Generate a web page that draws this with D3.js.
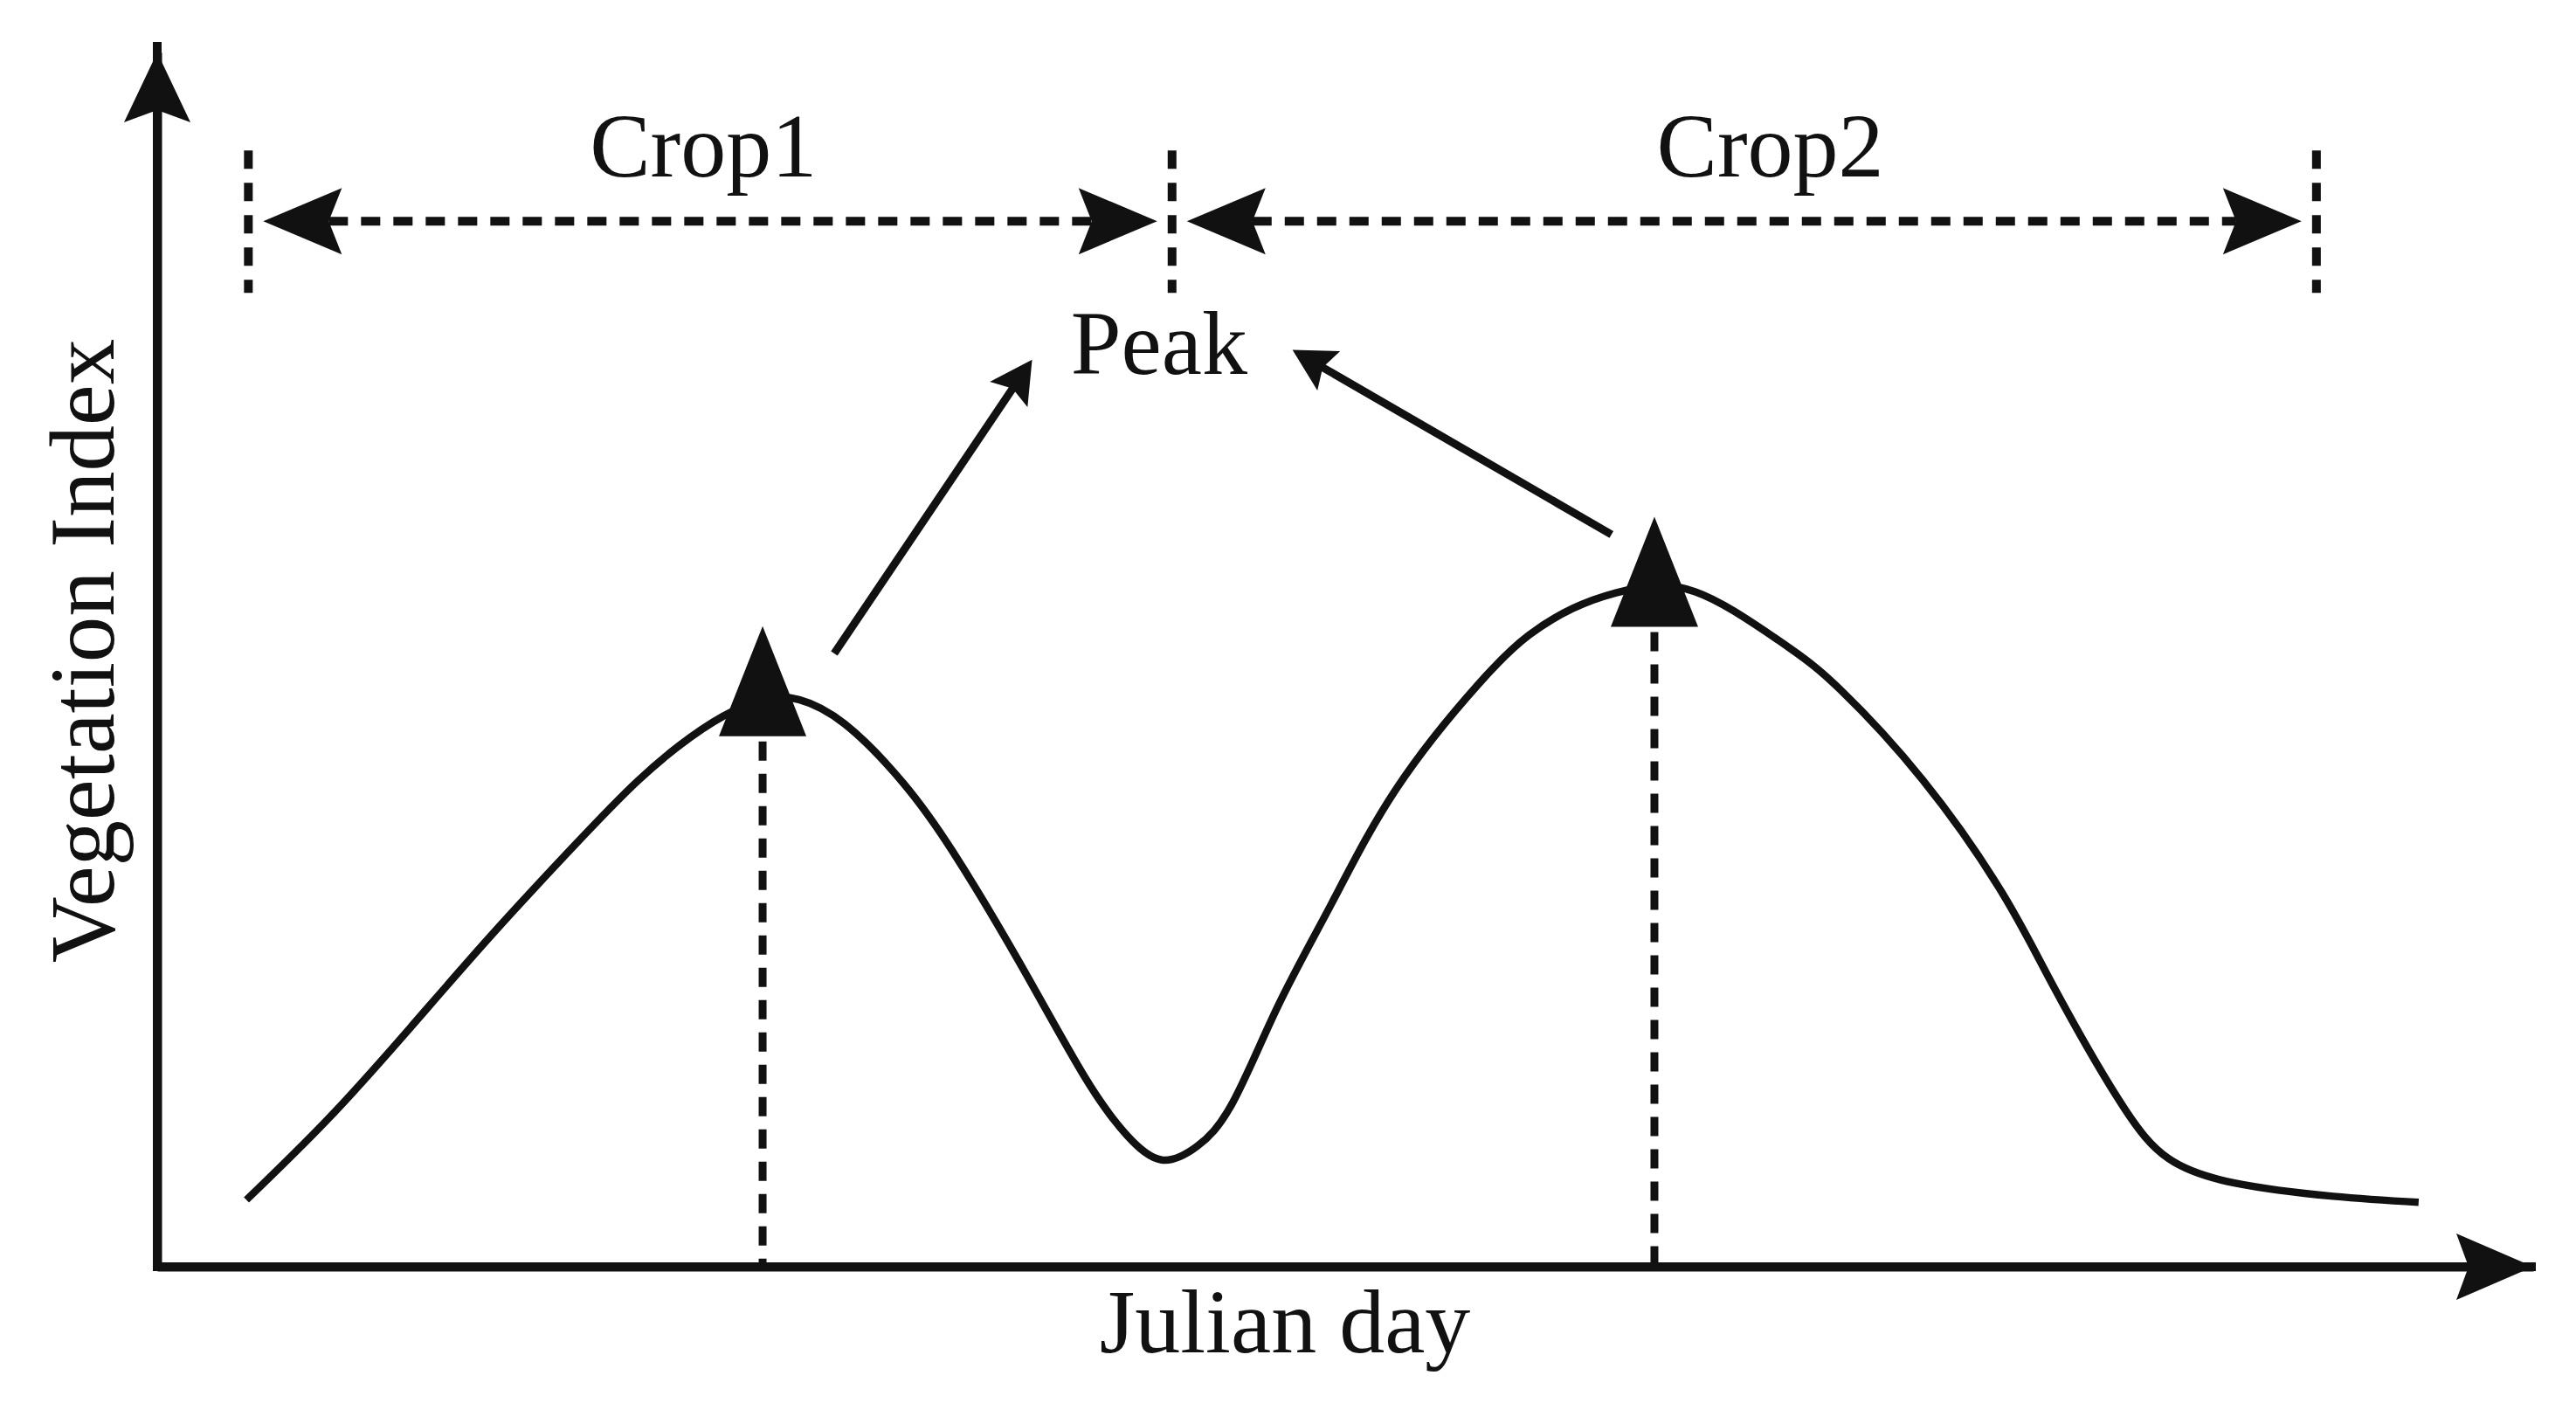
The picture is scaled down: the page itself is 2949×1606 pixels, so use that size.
<!DOCTYPE html>
<html>
<head>
<meta charset="utf-8">
<script src="https://cdn.jsdelivr.net/npm/d3@7"></script>
<style>
  html, body { margin: 0; padding: 0; background: #ffffff; }
  svg { display: block; }
  text { font-family: "Liberation Serif", "Times New Roman", serif; fill: #111; }
</style>
</head>
<body>
<svg id="chart" width="2949" height="1606"></svg>
<script>
// ---------- data (Julian day, vegetation index) ----------
const curveDays = [13.7, 26.3, 38.9, 51.5, 64.1, 73.8, 81.9, 88.6, 93.9, 98.6, 105.6, 114.5, 122.2, 132.3, 142.4, 149.0, 154.3, 159.7, 165.2, 172.2, 180.4, 190.4, 203.0, 210.7, 217.4, 224.1, 230.8, 236.2, 242.2, 250.9, 258.6, 271.2, 283.3, 291.3, 301.4, 309.0, 319.1, 334.3, 347.4];
const curveVI   = [0.055, 0.122, 0.197, 0.274, 0.347, 0.400, 0.436, 0.458, 0.468, 0.467, 0.447, 0.399, 0.342, 0.252, 0.157, 0.108, 0.088, 0.099, 0.135, 0.215, 0.299, 0.394, 0.480, 0.520, 0.542, 0.555, 0.561, 0.556, 0.540, 0.509, 0.475, 0.401, 0.309, 0.231, 0.137, 0.089, 0.069, 0.058, 0.053];

const peakDays = [93.0, 230.0];
const peakVI   = [0.470, 0.560];

const cropNames  = ["Crop1", "Crop2"];
const cropStart  = [14.0, 155.9];
const cropEnd    = [155.9, 331.7];
const cropLabelDay = [83.9, 247.8];
const bracketVI  = 0.861;
const cropLabelVI = 0.898;

const peakLabel = "Peak";
const peakLabelDay = 153.9;
const peakLabelVI = 0.735;
// annotation arrows from each peak towards the label
const peakArrowFromDay = [104.0, 223.4];
const peakArrowFromVI  = [0.505, 0.603];
const peakArrowToDay   = [134.4, 174.4];
const peakArrowToVI    = [0.747, 0.755];

const xTitle = "Julian day";
const yTitle = "Vegetation Index";

// ---------- setup ----------
const svg = d3.select("#chart");
const ink = "#111111";
const x = d3.scaleLinear().domain([0, 365]).range([180, 2900]);
const y = d3.scaleLinear().domain([0, 1]).range([1450, 60]);

function arrowHead(tx, ty, angle, len, half, notch) {
  const c = Math.cos(angle), s = Math.sin(angle);
  const bx = tx - c * len, by = ty - s * len;
  const nx = tx - c * notch, ny = ty - s * notch;
  const px = -s, py = c;
  return `M${tx},${ty}L${bx + px * half},${by + py * half}L${nx},${ny}L${bx - px * half},${by - py * half}Z`;
}

// ---------- axes ----------
const xAxis = d3.axisBottom(x).tickValues([]).tickSizeOuter(0);
const yAxis = d3.axisLeft(y).tickValues([]).tickSizeOuter(0);
const gx = svg.append("g").attr("transform", `translate(0,${y(0)})`).call(xAxis);
const gy = svg.append("g").attr("transform", `translate(${x(0)},0)`).call(yAxis);
[gx, gy].forEach(g => g.select(".domain").attr("stroke", ink).attr("stroke-width", 10).attr("fill", "none"));
svg.append("line").attr("x1", x(0) - 5).attr("x2", x(365) + 3).attr("y1", y(0)).attr("y2", y(0))
  .attr("stroke", ink).attr("stroke-width", 10);
svg.append("line").attr("x1", x(0)).attr("x2", x(0)).attr("y1", y(0) + 5).attr("y2", y(1) - 12)
  .attr("stroke", ink).attr("stroke-width", 10);
svg.append("path").attr("d", arrowHead(x(365), y(0), 0, 88, 38, 74)).attr("fill", ink);
svg.append("path").attr("d", arrowHead(x(0), y(1), -Math.PI / 2, 80, 38, 66)).attr("fill", ink);

// axis titles
svg.append("text").attr("x", 1471).attr("y", y(0) + 98)
  .attr("text-anchor", "middle").attr("font-size", 104).text(xTitle);
svg.append("text").attr("transform", `translate(130,745) rotate(-90)`)
  .attr("text-anchor", "middle").attr("font-size", 105).text(yTitle);

// ---------- vegetation curve ----------
const pts = curveDays.map((d, i) => [d, curveVI[i]]);
const line = d3.line().x(d => x(d[0])).y(d => y(d[1])).curve(d3.curveNatural);
svg.append("path").attr("d", line(pts)).attr("fill", "none")
  .attr("stroke", ink).attr("stroke-width", 8.5).attr("stroke-linejoin", "round");

// ---------- peak markers ----------
peakDays.forEach((d, i) => {
  const px = x(d), py = y(peakVI[i]);
  svg.append("line").attr("x1", px).attr("x2", px).attr("y1", py + 52).attr("y2", y(0) - 4)
    .attr("stroke", ink).attr("stroke-width", 9).attr("stroke-dasharray", "22,15");
  svg.append("path")
    .attr("d", `M${px},${py - 80}L${px + 50},${py + 46}L${px - 50},${py + 46}Z`)
    .attr("fill", ink);
});

// ---------- peak annotation arrows ----------
peakArrowFromDay.forEach((d, i) => {
  const x1 = x(d), y1 = y(peakArrowFromVI[i]);
  const x2 = x(peakArrowToDay[i]), y2 = y(peakArrowToVI[i]);
  const ang = Math.atan2(y2 - y1, x2 - x1);
  svg.append("line").attr("x1", x1).attr("y1", y1)
    .attr("x2", x2 - Math.cos(ang) * 30).attr("y2", y2 - Math.sin(ang) * 30)
    .attr("stroke", ink).attr("stroke-width", 9);
  svg.append("path").attr("d", arrowHead(x2, y2, ang, 48, 26, 40)).attr("fill", ink);
});
svg.append("text").attr("x", x(peakLabelDay)).attr("y", y(peakLabelVI))
  .attr("text-anchor", "middle").attr("font-size", 104).text(peakLabel);

// ---------- crop season brackets ----------
const by = y(bracketVI);
const boundaries = Array.from(new Set(cropStart.concat(cropEnd)));
boundaries.forEach(d => {
  svg.append("line").attr("x1", x(d)).attr("x2", x(d)).attr("y1", by - 81).attr("y2", by + 82)
    .attr("stroke", ink).attr("stroke-width", 10).attr("stroke-dasharray", "21,16");
});
cropNames.forEach((name, i) => {
  const xs = x(cropStart[i]) + 17, xe = x(cropEnd[i]) - 17;
  svg.append("line").attr("x1", xs + 75).attr("x2", xe - 75).attr("y1", by).attr("y2", by)
    .attr("stroke", ink).attr("stroke-width", 10).attr("stroke-dasharray", "22,15");
  svg.append("path").attr("d", arrowHead(xs, by, Math.PI, 90, 38, 75)).attr("fill", ink);
  svg.append("path").attr("d", arrowHead(xe, by, 0, 90, 38, 75)).attr("fill", ink);
  svg.append("text").attr("x", x(cropLabelDay[i])).attr("y", y(cropLabelVI))
    .attr("text-anchor", "middle").attr("font-size", 104).text(name);
});
</script>
</body>
</html>
